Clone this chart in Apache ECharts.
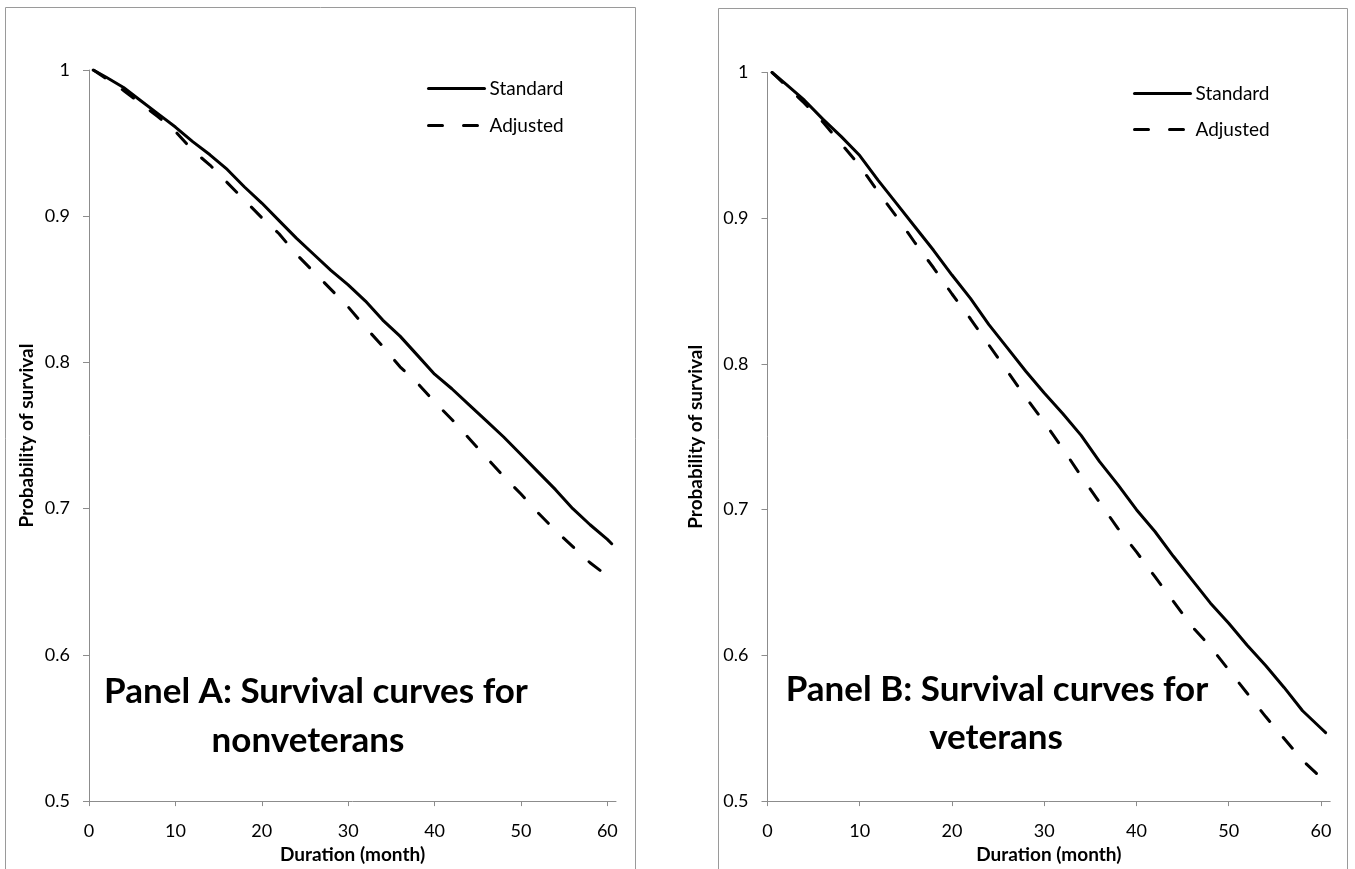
<!DOCTYPE html>
<html><head><meta charset="utf-8">
<script src="https://cdn.jsdelivr.net/npm/echarts@6/dist/echarts.min.js"></script>
<style>html,body{margin:0;padding:0;background:#fff}#c{width:1355px;height:869px}</style>
</head><body><div id="c"></div>
<script>
// ---- data ----
const monthsStandard = [0.5,2,4,6,8,10,12,14,16,18,20,22,24,26,28,30,32,34,36,38,40,42,44,46,48,50,52,54,56,58,60,60.5];
const monthsAdjusted = [0.5,2,4,6,8,10,12,14,16,18,20,22,24,26,28,30,32,34,36,38,40,42,44,46,48,50,52,54,56,58,60];
const standardA = [1.000,0.995,0.988,0.979,0.970,0.961,0.951,0.942,0.932,0.920,0.909,0.897,0.885,0.874,0.863,0.853,0.842,0.829,0.818,0.805,0.792,0.782,0.771,0.760,0.749,0.737,0.725,0.713,0.700,0.689,0.679,0.676];
const adjustedA = [1.000,0.994,0.986,0.977,0.968,0.958,0.945,0.935,0.923,0.911,0.899,0.888,0.874,0.862,0.850,0.838,0.824,0.811,0.797,0.786,0.773,0.761,0.748,0.735,0.722,0.710,0.697,0.685,0.674,0.663,0.654];
const standardB = [1.000,0.992,0.981,0.968,0.956,0.943,0.926,0.910,0.894,0.878,0.861,0.845,0.827,0.811,0.795,0.780,0.766,0.751,0.733,0.717,0.700,0.685,0.668,0.652,0.636,0.622,0.607,0.593,0.578,0.562,0.550,0.547];
const adjustedB = [1.000,0.991,0.979,0.966,0.951,0.936,0.918,0.901,0.883,0.866,0.848,0.831,0.813,0.795,0.777,0.760,0.742,0.723,0.705,0.687,0.671,0.654,0.637,0.620,0.606,0.590,0.574,0.558,0.543,0.528,0.516];
const xTickValues = [0,10,20,30,40,50,60];
const seriesNames = ['Standard','Adjusted'];
const panelTitlesA = ['Panel A: Survival curves for','nonveterans'];
const panelTitlesB = ['Panel B: Survival curves for','veterans'];
const xAxisTitle = 'Duration (month)';
const yAxisTitle = 'Probability of survival';

const FONT = 'Lato';
const AXIS_COLOR = '#8c8c8c';
const DASH = [14,21];
function pts(xs, ys){ return ys.map((v,i)=>[xs[i], v]); }

function xAxis(gi){
  return { type:'value', gridIndex:gi, min:0, max:61,
    axisLine:{show:true, onZero:false, lineStyle:{color:AXIS_COLOR, width:1}},
    axisTick:{show:true, customValues:xTickValues, length:5, lineStyle:{color:AXIS_COLOR}},
    axisLabel:{customValues:xTickValues, color:'#000', fontFamily:FONT, fontSize:18, margin:21},
    splitLine:{show:false},
    name:xAxisTitle, nameLocation:'middle', nameGap:39,
    nameTextStyle:{fontFamily:FONT, fontWeight:'bold', fontSize:19, color:'#000'} };
}
function yAxis(gi, gap){
  return { type:'value', gridIndex:gi, min:0.5, max:1, interval:0.1,
    axisLine:{show:true, onZero:false, lineStyle:{color:AXIS_COLOR, width:1}},
    axisTick:{show:true, length:6, lineStyle:{color:AXIS_COLOR}},
    axisLabel:{color:'#000', fontFamily:FONT, fontSize:18, margin:19,
      formatter: v => (Math.abs(v-1)<1e-9 ? '1' : v.toFixed(1))},
    splitLine:{show:false},
    name:yAxisTitle, nameLocation:'middle', nameGap:gap, nameRotate:90,
    nameTextStyle:{fontFamily:FONT, fontWeight:'bold', fontSize:19, color:'#000'} };
}
function line(name, gi, xs, ys, dashed){
  return { name, type:'line', xAxisIndex:gi, yAxisIndex:gi, data:pts(xs, ys),
    symbol:'none', showSymbol:false, smooth:false, silent:true,
    lineStyle:{color:'#000', width:3, type: dashed ? DASH : 'solid', cap:'round', join:'round'},
    itemStyle:{color:'#000'} };
}
function legend(left, top, gap){
  return { data:seriesNames, orient:'vertical', left, top, padding:0, itemWidth:56, itemHeight:14, itemGap:gap,
    selectedMode:false,
    itemStyle:{color:'rgba(0,0,0,0)', borderWidth:0, opacity:0},
    lineStyle:{width:3, color:'#000', cap:'round'},
    textStyle:{fontFamily:FONT, fontSize:19, color:'#000'} };
}
function panelText(x, y, txt){
  return {type:'text', x, y, z:10, silent:true,
    style:{text:txt, fill:'#000', font:'bold 35px ' + FONT, align:'center', verticalAlign:'middle'}};
}

const chart = echarts.init(document.getElementById('c'), null, {renderer:'canvas'});
chart.setOption({
  animation:false,
  backgroundColor:'#fff',
  grid:[
    {left:89, top:70, width:527, height:738.5},
    {left:767.5, top:72.5, width:562.7, height:735.5}
  ],
  xAxis:[xAxis(0), xAxis(1)],
  yAxis:[yAxis(0, 53), yAxis(1, 62)],
  legend:[legend(427, 79, 18), legend(1133, 84, 17)],
  series:[
    line(seriesNames[0], 0, monthsStandard, standardA, false),
    line(seriesNames[1], 0, monthsAdjusted, adjustedA, true),
    line(seriesNames[0], 1, monthsStandard, standardB, false),
    line(seriesNames[1], 1, monthsAdjusted, adjustedB, true)
  ],
  graphic:[
    {type:'rect', shape:{x:5.5, y:7.5, width:630, height:900}, style:{fill:null, stroke:'#9a9a9a', lineWidth:1}, silent:true, z:-1},
    {type:'rect', shape:{x:718.5, y:8.5, width:629, height:900}, style:{fill:null, stroke:'#9a9a9a', lineWidth:1}, silent:true, z:-1},
    panelText(316, 692, panelTitlesA[0]),
    panelText(308, 741, panelTitlesA[1]),
    panelText(997, 690, panelTitlesB[0]),
    panelText(996, 738, panelTitlesB[1])
  ]
});
</script>
</body></html>
